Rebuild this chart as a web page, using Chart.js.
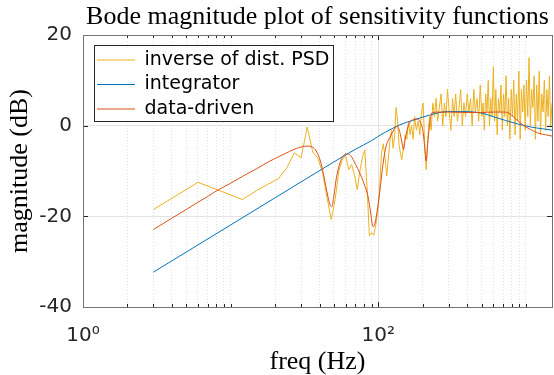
<!DOCTYPE html>
<html>
<head>
<meta charset="utf-8">
<title>Bode magnitude plot of sensitivity functions</title>
<script src="https://cdn.jsdelivr.net/npm/chart.js@4.4.1/dist/chart.umd.min.js"></script>
<style>
  html, body { margin: 0; padding: 0; background: #fff; }
  canvas { display: block; }
</style>
</head>
<body>
<canvas id="bode-chart" width="554" height="375"></canvas>
<script>
const distFreq = [
  3, 6, 9, 12, 15, 18, 21, 24, 27, 30,
  33, 36, 39, 42, 45, 48, 51, 54, 57, 60,
  63, 66, 69, 72, 75, 78, 81, 84, 87, 90,
  93, 96, 99, 102, 105, 108, 111, 114, 117, 120,
  123, 126, 129, 132, 135, 138, 141, 144, 148, 152,
  156, 160, 164, 168, 172, 176, 181, 186, 191, 196,
  201, 206, 211, 216, 222, 228, 234, 240, 246, 252,
  259, 266, 273, 280, 287, 294, 302, 310, 318, 326,
  334, 343, 352, 361, 370, 380, 390, 400, 410, 421,
  432, 443, 454, 466, 478, 490, 502, 512, 522, 533,
  544, 555, 566, 577, 589, 601, 613, 625, 638, 651,
  664, 677, 691, 705, 719, 733, 748, 763, 778, 794,
  810, 826, 843, 860, 877, 895, 913, 931, 950, 969,
  988, 1008, 1028, 1049, 1070, 1091, 1113, 1135, 1158, 1181,
  1205, 1229, 1254, 1279, 1305, 1331, 1358, 1385, 1413, 1441,
  1470, 1500
];
const distDb = [
  -18.5, -12.5, -14.7, -16.3, -14.3, -12.9, -11.7, -9.3, -6.0, -7.1,
  -0.3, -5.9, -7.2, -10.5, -16, -20.7, -16.3, -10, -7.5, -6.6,
  -9.7, -8.6, -11, -14.1, -10, -7, -5.3, -14, -24.3, -23.6,
  -24.2, -22, -19, -14, -6, -4.0, -7, -11.1, -7, -3.1,
  -1, -5, -2, 4, 1, -4, -6, -7.5, -5, -2,
  -3, 1, -2, 0, -3, 2, -1, 1, -2, 3,
  5, -4, -9.7, -3, 2, -1, 5, 2, 6, 1,
  4, 7, 0, 5, 2, 8, 3, -1, 6, 2,
  7, 1, 4, 8, 0, 5, 2, 7, 3, 6,
  0, 8, 3, 6, 1, 9, 2, 5, -1, 7,
  3, 10, 0, 6, 2, 13, 1, 8, -2, 6,
  3, 9, -1, 7, 2, 11, 0, 6, -3, 8,
  2, 10, -2, 7, 1, 12, -3, 8, 3, 9,
  -1, 10, 2, 15, 0, 8, 4, 11, -3, 9,
  1, 12, -2, 7, 3, 10, -1, 8, 2, 11,
  0, 5
];

// integrator sensitivity
const intFreq = [3, 10, 20, 30, 50, 70, 90, 104, 120, 140, 176, 226, 292, 380, 494, 640, 830, 1080, 1300, 1500];
const intDb = [-32.3, -21.9, -15.9, -12.4, -8.0, -5.2, -3.3, -2.0, -0.9, 0.2, 1.3, 2.4, 3.1, 3.1, 2.8, 1.7, 0.6, -0.3, -0.7, -1.0];

// data-driven sensitivity
const ddFreq = [
  3, 4, 5, 6, 7, 8, 10, 12, 15, 18,
  21, 25, 28, 31, 33, 35, 37, 39, 41, 43,
  45, 47, 48.3, 50, 52, 55, 58, 61, 65, 70,
  75, 80, 85, 89, 92, 95, 98, 101, 104, 108,
  113, 121, 128, 134, 140, 145, 148, 152, 158, 165,
  175, 183, 192, 200, 205, 211, 216, 221, 226, 232,
  260, 300, 400, 500, 600, 700, 750, 820, 900, 1000,
  1100, 1200, 1350, 1500
];
const ddDb = [
  -22.9, -20.4, -18.5, -16.9, -15.6, -14.4, -12.7, -11.2, -9.5, -8.0,
  -6.9, -5.7, -5.0, -4.6, -4.5, -4.6, -5.1, -6.3, -8.4, -11.5,
  -14.8, -17.4, -17.9, -15.5, -11.5, -8.2, -6.6, -6.2, -6.6, -8.5,
  -10.5, -12.8, -15.5, -19.5, -22.3, -21.5, -19, -16, -12.5, -8,
  -4.5, -2.3, -0.8, -0.1, -1.5, -4, -5.3, -3, -0.5, 0.9,
  1.4, 1.5, 0.8, -1, -4, -7.8, -4, -0.5, 1.8, 2.9,
  3.0, 3.0, 2.9, 2.9, 3.0, 3.0, 2.9, 2.0, 0.8, -0.3,
  -1.0, -1.6, -2.0, -2.3
];

const xTickValues = [1, 2, 3, 4, 5, 6, 7, 8, 9, 10, 20, 30, 40, 50, 60, 70, 80, 90, 100, 200, 300, 400, 500, 600, 700, 800, 900, 1000];
const xTickLabels = { 1: '10\u2070', 100: '10\u00b2' };
const majorX = [1, 100];

const toPoints = (xs, ys) => xs.map((x, i) => ({ x: x, y: ys[i] }));

const axisBox = {
  id: 'axisBox',
  afterLayout(chart) {
    const lg = chart.legend;
    const a = chart.chartArea;
    const w = lg.width;
    const h = lg.height;
    lg.left = a.left + 8.5;
    lg.top = a.top + 10;
    lg.right = lg.left + w;
    lg.bottom = lg.top + h;
  },
  beforeDatasetsDraw(chart) {
    const { ctx, chartArea: a, scales } = chart;
    ctx.save();
    ctx.strokeStyle = '#262626';
    ctx.lineWidth = 1;
    ctx.beginPath();
    scales.x.ticks.forEach((t) => {
      const px = Math.round(scales.x.getPixelForValue(t.value)) + 0.5;
      const len = majorX.includes(t.value) ? 5 : 3;
      ctx.moveTo(px, a.bottom);
      ctx.lineTo(px, a.bottom - len);
      ctx.moveTo(px, a.top);
      ctx.lineTo(px, a.top + len);
    });
    scales.y.ticks.forEach((t) => {
      const py = Math.round(scales.y.getPixelForValue(t.value)) + 0.5;
      ctx.moveTo(a.left, py);
      ctx.lineTo(a.left + 5, py);
      ctx.moveTo(a.right, py);
      ctx.lineTo(a.right - 5, py);
    });
    ctx.stroke();
    ctx.restore();
  },
  afterDraw(chart) {
    const { ctx, chartArea: a } = chart;
    ctx.save();
    ctx.strokeStyle = '#737373';
    ctx.lineWidth = 1;
    ctx.strokeRect(Math.round(a.left) + 0.5, Math.round(a.top) + 0.5, Math.round(a.right - a.left), Math.round(a.bottom - a.top));
    // legend frame
    const bx = Math.round(a.left + 11) + 0.5;
    const by = Math.round(a.top + 10) + 0.5;
    ctx.fillStyle = '#fff';
    ctx.fillRect(bx, by, 239, 76);
    ctx.strokeStyle = '#262626';
    ctx.strokeRect(bx, by, 239, 76);
    ctx.restore();
    chart.legend.draw();
  }
};

const ctx = document.getElementById('bode-chart').getContext('2d');

new Chart(ctx, {
  type: 'line',
  data: {
    datasets: [
      {
        label: 'inverse of dist. PSD',
        data: toPoints(distFreq, distDb),
        borderColor: '#EDB120',
        backgroundColor: '#EDB120',
        borderWidth: 1,
        pointRadius: 0,
        tension: 0,
        order: 3,
      },
      {
        label: 'integrator',
        data: toPoints(intFreq, intDb),
        borderColor: '#0072BD',
        backgroundColor: '#0072BD',
        borderWidth: 1,
        pointRadius: 0,
        cubicInterpolationMode: 'monotone',
        order: 2,
      },
      {
        label: 'data-driven',
        data: toPoints(ddFreq, ddDb),
        borderColor: '#D95319',
        backgroundColor: '#D95319',
        borderWidth: 1,
        pointRadius: 0,
        cubicInterpolationMode: 'monotone',
        order: 1,
      },
    ],
  },
  options: {
    responsive: false,
    devicePixelRatio: 1,
    animation: false,
    events: [],
    layout: { padding: { left: 0, right: 2, top: 0, bottom: 0 } },
    plugins: {
      tooltip: { enabled: false },
      title: {
        display: true,
        text: 'Bode magnitude plot of sensitivity functions',
        fullSize: false,
        color: '#000',
        font: { family: 'Liberation Serif', size: 26, weight: 'normal', lineHeight: 1 },
        padding: { top: 4, bottom: 5 },
      },
      legend: {
        position: 'chartArea',
        align: 'start',
        labels: {
          sort: (a, b) => a.datasetIndex - b.datasetIndex,
          usePointStyle: true,
          pointStyle: 'line',
          pointStyleWidth: 38,
          padding: 5.5,
          color: '#000',
          font: { family: 'DejaVu Sans', size: 19 },
        },
      },
    },
    scales: {
      x: {
        type: 'logarithmic',
        position: 'bottom',
        bounds: 'data',
        min: 1,
        max: 1500,
        afterBuildTicks: (scale) => {
          scale.ticks = xTickValues.map((v) => ({ value: v }));
        },
        afterFit: (scale) => {
          scale.height = 68;
        },
        ticks: {
          autoSkip: false,
          maxRotation: 0,
          padding: 17,
          color: '#262626',
          font: { family: 'DejaVu Sans', size: 20 },
          callback: (value) => xTickLabels[value] || '',
        },
        grid: {
          drawTicks: false,
          color: (c) => (c.tick && majorX.includes(c.tick.value) ? '#e3e3e3' : '#e4e4e4'),
        },
        border: {
          display: false,
          dash: (c) => (c.tick && majorX.includes(c.tick.value) ? [] : [1, 2]),
        },
        title: {
          display: true,
          text: 'freq (Hz)',
          color: '#000',
          font: { family: 'Liberation Serif', size: 26, lineHeight: 1 },
          padding: { top: 0, bottom: 0 },
        },
      },
      y: {
        type: 'linear',
        position: 'left',
        min: -40,
        max: 20,
        afterFit: (scale) => {
          scale.width = 83;
        },
        ticks: {
          stepSize: 20,
          padding: 11,
          color: '#262626',
          font: { family: 'DejaVu Sans', size: 20 },
        },
        grid: {
          drawTicks: false,
          color: '#e3e3e3',
        },
        border: { display: false },
        title: {
          display: true,
          text: 'magnitude (dB)',
          color: '#000',
          font: { family: 'Liberation Serif', size: 26, lineHeight: 1 },
          padding: { top: 7, bottom: 7 },
        },
      },
    },
  },
  plugins: [axisBox],
});
</script>
</body>
</html>
